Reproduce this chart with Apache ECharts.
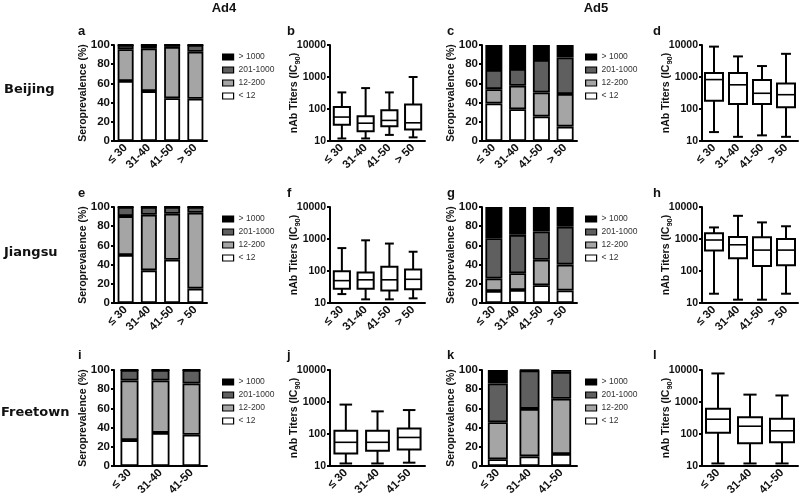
<!DOCTYPE html>
<html><head><meta charset="utf-8">
<script src="https://cdn.jsdelivr.net/npm/echarts@6/dist/echarts.min.js"></script>
<style>html,body{margin:0;padding:0;background:#fff}#c{width:800px;height:496px}</style>
</head><body><div id="c"></div>
<script>
// ---------- DATA ----------
const ageGroups4 = ['≤ 30', '31-40', '41-50', '> 50'];
const ageGroups3 = ['≤ 30', '31-40', '41-50'];
const titerBins = ['< 12', '12-200', '201-1000', '> 1000'];
const legendOrder = ['> 1000', '201-1000', '12-200', '< 12'];
const columnTitles = ['Ad4', 'Ad5'];
const rowTitles = ['Beijing', 'Jiangsu', 'Freetown'];
const panelLetters = ['a','b','c','d','e','f','g','h','i','j','k','l'];

// Seroprevalence (%) stacked by titer bin
const a_lt12 = [62.5, 52, 44.5, 44];
const a_12_200 = [33, 44.5, 53.5, 49];
const a_201_1000 = [4.5, 3.5, 2, 7];
const a_gt1000 = [0, 0, 0, 0];

const c_lt12 = [39, 33, 25.5, 15];
const c_12_200 = [15, 24.5, 25, 34];
const c_201_1000 = [20, 17.5, 34, 38];
const c_gt1000 = [26, 25, 15.5, 13];

const e_lt12 = [50, 34, 45, 15];
const e_12_200 = [40.5, 58, 48, 79];
const e_201_1000 = [9.5, 8, 7, 6];
const e_gt1000 = [0, 0, 0, 0];

const g_lt12 = [12.5, 13.5, 18.5, 13];
const g_12_200 = [13, 17.5, 26.5, 27];
const g_201_1000 = [42, 40, 29.5, 39.5];
const g_gt1000 = [32.5, 29, 25.5, 20.5];

const i_lt12 = [27, 34.5, 32.5];
const i_12_200 = [62, 54.5, 53.5];
const i_201_1000 = [11, 11, 14];
const i_gt1000 = [0, 0, 0];

const k_lt12 = [7, 10, 12.5];
const k_12_200 = [38.5, 49.5, 57.5];
const k_201_1000 = [40.5, 40, 28];
const k_gt1000 = [14, 0.5, 2];

// nAb titers box plots: [min, Q1, median, Q3, max] per age group
const b_box = [[12, 32, 56, 115, 330], [12, 20, 36, 59, 450], [15.5, 29, 44, 91, 330], [13, 23, 37, 138, 1000]];
const d_box = [[19, 182, 830, 1330, 8900], [13.5, 144, 570, 1330, 4400], [15, 144, 310, 800, 2200], [13.5, 113, 280, 630, 5300]];
const f_box = [[19, 28, 50, 99, 520], [13, 28, 53, 89, 910], [13, 24.5, 53, 136, 720], [14, 27, 55, 112, 400]];
const h_box = [[19.5, 440, 930, 1500, 2300], [12.7, 250, 660, 1150, 5300], [12.7, 143, 450, 1130, 3300], [19.5, 150, 450, 1000, 2500]];
const j_box = [[12, 24.5, 55, 127, 830], [12, 30, 55, 127, 510], [12.7, 33, 78, 148, 560]];
const l_box = [[12, 110, 290, 620, 7800], [12, 51, 175, 335, 1700], [12, 55, 126, 300, 1600]];

const percentTicks = [0, 20, 40, 60, 80, 100];
const titerTicks = [10, 100, 1000, 10000];

// ---------- LAYOUT ----------
const FONT = '"Liberation Sans", Arial, sans-serif';
const rowTops = [45, 207, 370];
const rowHeight = 96;
const cols = [{left: 114, width: 93}, {left: 330, width: 95}, {left: 482, width: 95}, {left: 702, width: 96}];
const legendLeft = {0: 217, 2: 580};
const binColors = {'< 12': '#ffffff', '12-200': '#a5a5a5', '201-1000': '#5f5f5f', '> 1000': '#000000'};

const barPanels = [
  {row: 0, col: 0, cats: ageGroups4, data: [a_lt12, a_12_200, a_201_1000, a_gt1000], bw: 16},
  {row: 0, col: 2, cats: ageGroups4, data: [c_lt12, c_12_200, c_201_1000, c_gt1000], bw: 17},
  {row: 1, col: 0, cats: ageGroups4, data: [e_lt12, e_12_200, e_201_1000, e_gt1000], bw: 16},
  {row: 1, col: 2, cats: ageGroups4, data: [g_lt12, g_12_200, g_201_1000, g_gt1000], bw: 17},
  {row: 2, col: 0, cats: ageGroups3, data: [i_lt12, i_12_200, i_201_1000, i_gt1000], bw: 18},
  {row: 2, col: 2, cats: ageGroups3, data: [k_lt12, k_12_200, k_201_1000, k_gt1000], bw: 20}
];
const boxPanels = [
  {row: 0, col: 1, cats: ageGroups4, data: b_box, ratio: 0.68},
  {row: 0, col: 3, cats: ageGroups4, data: d_box, ratio: 0.75},
  {row: 1, col: 1, cats: ageGroups4, data: f_box, ratio: 0.68},
  {row: 1, col: 3, cats: ageGroups4, data: h_box, ratio: 0.75},
  {row: 2, col: 1, cats: ageGroups3, data: j_box, ratio: 0.72},
  {row: 2, col: 3, cats: ageGroups3, data: l_box, ratio: 0.75}
];

const grid = [], xAxis = [], yAxis = [], series = [], legend = [];

function addAxes(p, isLog) {
  const gi = grid.length;
  grid.push({left: cols[p.col].left, top: rowTops[p.row], width: cols[p.col].width, height: rowHeight,
    containLabel: false, outerBoundsMode: 'none'});
  xAxis.push({type: 'category', gridIndex: gi, data: p.cats,
    axisLine: {lineStyle: {color: '#000', width: 2}},
    axisTick: {alignWithLabel: true, length: 4, lineStyle: {color: '#000', width: 2}},
    axisLabel: {rotate: 45, interval: 0, margin: 5, fontSize: 11.5, fontWeight: 'bold', color: '#111', fontFamily: FONT}
  });
  const common = {gridIndex: gi, splitLine: {show: false},
    axisLine: {show: true, lineStyle: {color: '#000', width: 2}},
    axisTick: {show: true, length: 3, lineStyle: {color: '#000', width: 2}},
    nameLocation: 'middle', nameRotate: 90, nameMoveOverlap: false};
  if (isLog) {
    yAxis.push(Object.assign({type: 'log', logBase: 10, min: titerTicks[0], max: titerTicks[titerTicks.length - 1],
      minorTick: {show: false},
      axisLabel: {fontSize: 10.5, fontWeight: 'bold', color: '#111', margin: 4, fontFamily: FONT,
        formatter: (v) => String(Math.round(v))},
      name: '{a|nAb Titers (IC}{s|90}{a|)}', nameGap: 28,
      nameTextStyle: {fontFamily: FONT, rich: {
        a: {fontSize: 10.5, fontWeight: 'bold', color: '#111', fontFamily: FONT, lineHeight: 16, verticalAlign: 'middle'},
        s: {fontSize: 7.5, fontWeight: 'bold', color: '#111', fontFamily: FONT, lineHeight: 16, verticalAlign: 'bottom'}
      }}
    }, common));
  } else {
    yAxis.push(Object.assign({type: 'value', min: percentTicks[0], max: percentTicks[percentTicks.length - 1],
      interval: percentTicks[1] - percentTicks[0],
      axisLabel: {fontSize: 11.5, fontWeight: 'bold', color: '#111', margin: 4, fontFamily: FONT},
      name: 'Seroprevalence (%)', nameGap: 25,
      nameTextStyle: {fontSize: 10.5, fontWeight: 'bold', color: '#111', fontFamily: FONT}
    }, common));
  }
  return gi;
}

barPanels.forEach((p, idx) => {
  const gi = addAxes(p, false);
  titerBins.forEach((bin, b) => {
    series.push({type: 'bar', name: bin, xAxisIndex: gi, yAxisIndex: gi, stack: 'stack' + idx,
      barWidth: p.bw, data: p.data[b], animation: false,
      itemStyle: {color: binColors[bin], borderColor: '#000', borderWidth: 1.8}});
  });
  legend.push({data: legendOrder, orient: 'vertical', selectedMode: false,
    left: legendLeft[p.col], top: rowTops[p.row] + 2,
    itemWidth: 11, itemHeight: 6, itemGap: 3, icon: 'rect',
    itemStyle: {borderColor: '#000', borderWidth: 1.2},
    textStyle: {fontSize: 8.5, lineHeight: 10, color: '#333', fontFamily: FONT}});
});

function makeBoxRender(nCat, ratio) {
  return function (params, api) {
    const cs = params.coordSys;
    const hw = cs.width / nCat * ratio / 2;
    const cap = hw * 0.55;
    const x = api.value(0);
    const pMin = api.coord([x, api.value(1)]);
    const pQ1 = api.coord([x, api.value(2)]);
    const pMed = api.coord([x, api.value(3)]);
    const pQ3 = api.coord([x, api.value(4)]);
    const pMax = api.coord([x, api.value(5)]);
    const cx = pMin[0];
    const st = {stroke: '#000', lineWidth: 2, fill: null};
    return {type: 'group', children: [
      {type: 'line', shape: {x1: cx, y1: pMax[1], x2: cx, y2: pQ3[1]}, style: st},
      {type: 'line', shape: {x1: cx, y1: pQ1[1], x2: cx, y2: pMin[1]}, style: st},
      {type: 'line', shape: {x1: cx - cap, y1: pMax[1], x2: cx + cap, y2: pMax[1]}, style: st},
      {type: 'line', shape: {x1: cx - cap, y1: pMin[1], x2: cx + cap, y2: pMin[1]}, style: st},
      {type: 'rect', shape: {x: cx - hw, y: pQ3[1], width: 2 * hw, height: pQ1[1] - pQ3[1]},
        style: {fill: '#fff', stroke: '#000', lineWidth: 2}},
      {type: 'line', shape: {x1: cx - hw, y1: pMed[1], x2: cx + hw, y2: pMed[1]}, style: {stroke: '#000', lineWidth: 1.6}}
    ]};
  };
}

boxPanels.forEach((p) => {
  const gi = addAxes(p, true);
  series.push({type: 'custom', name: 'titers', xAxisIndex: gi, yAxisIndex: gi, animation: false,
    encode: {x: 0, y: [1, 2, 3, 4, 5]},
    data: p.data.map((d, i) => [i].concat(d)),
    renderItem: makeBoxRender(p.cats.length, p.ratio)});
});

// ---------- TEXTS ----------
const graphic = [];
const colTitleX = [224, 596];
columnTitles.forEach((t, i) => graphic.push({type: 'text', x: colTitleX[i], y: 8,
  style: {text: t, fontSize: 13, fontWeight: 'bold', fill: '#111', fontFamily: FONT, align: 'center', verticalAlign: 'middle'}}));
const rowTitleX = [4, 4, 1];
const rowTitleY = [90, 253, 413];
rowTitles.forEach((t, i) => graphic.push({type: 'text', x: rowTitleX[i], y: rowTitleY[i],
  style: {text: t, fontSize: 13, fontWeight: 'bold', fill: '#111', fontFamily: '"DejaVu Sans", sans-serif', align: 'left', verticalAlign: 'middle'}}));
const letterX = [78, 287, 447, 653];
const letterY = [31, 193, 355];
panelLetters.forEach((t, i) => graphic.push({type: 'text', x: letterX[i % 4], y: letterY[Math.floor(i / 4)],
  style: {text: t, fontSize: 13, fontWeight: 'bold', fill: '#111', fontFamily: FONT, align: 'left', verticalAlign: 'middle'}}));

const chart = echarts.init(document.getElementById('c'), null, {renderer: 'canvas'});
chart.setOption({animation: false, backgroundColor: '#fff', grid, xAxis, yAxis, series, legend, graphic});
</script></body></html>
